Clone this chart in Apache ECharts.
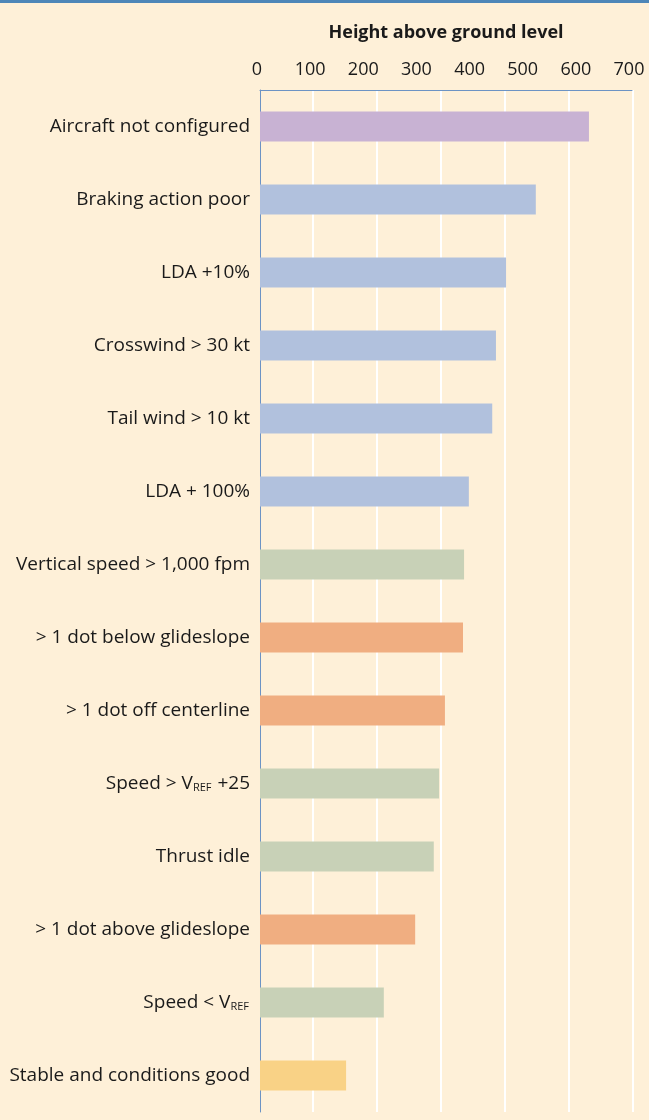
<!DOCTYPE html>
<html>
<head>
<meta charset="utf-8">
<script src="https://cdn.jsdelivr.net/npm/echarts@6/dist/echarts.min.js"></script>
<style>
html,body{margin:0;padding:0;background:#fef0d8;}
#topbar{height:3px;background:#4d86b8;}
#container{width:649px;height:1117px;}
</style>
</head>
<body>
<div id="topbar"></div>
<div id="container"></div>
<script>
var categories = [
	'Aircraft not configured',
	'Braking action poor',
	'LDA +10%',
	'Crosswind > 30 kt',
	'Tail wind > 10 kt',
	'LDA + 100%',
	'Vertical speed > 1,000 fpm',
	'> 1 dot below glideslope',
	'> 1 dot off centerline',
	'Speed > VREF +25',
	'Thrust idle',
	'> 1 dot above glideslope',
	'Speed < VREF',
	'Stable and conditions good'
];
var heights = [619, 519, 463, 444, 437, 393, 384, 382, 348, 337, 327, 292, 233, 162];
var groups = ['config', 'runway', 'runway', 'runway', 'runway', 'runway', 'energy', 'path', 'path', 'energy', 'energy', 'path', 'energy', 'stable'];
var groupColors = {
	config: '#c8b2d3',
	runway: '#b1c1dd',
	energy: '#c8d1b7',
	path: '#f0ae81',
	stable: '#f9d286'
};
var tickMax = 700;
var tickStep = 100;

var myChart = echarts.init(document.getElementById('container'));

var barData = [];
for (var i = 0; i < heights.length; i++) {
	barData.push({
		value: heights[i],
		itemStyle: {color: groupColors[groups[i]]}
	});
}

var labelFormat = function (v) {
	if (v.indexOf('VREF') >= 0) {
		var parts = v.split('VREF');
		return '{t|' + parts[0] + 'V}{s|REF}{t|' + parts[1] + '}';
	}
	return '{t|' + v + '}';
};

var option = {
	backgroundColor: '#fef0d8',
	animation: false,
	textStyle: {fontFamily: 'Open Sans'},
	grid: [
		{left: 260, right: 17, top: 87, bottom: 8},
		// second grid only carries the white guide lines
		{left: 249, right: 16, top: 87, bottom: 8}
	],
	xAxis: [
		{
			type: 'value',
			gridIndex: 0,
			position: 'top',
			min: 0,
			max: tickMax,
			interval: tickStep,
			name: 'Height above ground level',
			nameLocation: 'middle',
			nameGap: 48,
			nameTextStyle: {fontSize: 18, fontWeight: 'bold', color: '#1a1a1a'},
			axisLine: {show: true, lineStyle: {color: '#6c93c4', width: 1}},
			axisTick: {show: false},
			splitLine: {show: false},
			axisLabel: {fontSize: 18, color: '#1a1a1a', margin: 11, padding: [0, 6, 0, 0]}
		},
		{
			type: 'value',
			gridIndex: 1,
			min: 0,
			max: 384,
			interval: 64,
			axisLine: {show: false},
			axisTick: {show: false},
			axisLabel: {show: false},
			splitLine: {show: true, showMinLine: false, lineStyle: {color: '#ffffff', width: 2}}
		}
	],
	yAxis: [
		{
			type: 'category',
			gridIndex: 0,
			data: categories,
			inverse: true,
			axisLine: {show: true, lineStyle: {color: '#6c93c4', width: 1}},
			axisTick: {show: false},
			axisLabel: {
				margin: 10,
				formatter: labelFormat,
				rich: {
					t: {fontSize: 19, color: '#1a1a1a', fontFamily: 'Open Sans'},
					s: {fontSize: 11, color: '#1a1a1a', fontFamily: 'Open Sans', padding: [9, 1, 0, 0]}
				}
			}
		},
		{
			type: 'category',
			gridIndex: 1,
			data: categories,
			show: false
		}
	],
	series: [{
		name: 'Height above ground level',
		type: 'bar',
		xAxisIndex: 0,
		yAxisIndex: 0,
		data: barData,
		barWidth: 30,
		z: 3
	}]
};
myChart.setOption(option);
</script>
</body>
</html>
